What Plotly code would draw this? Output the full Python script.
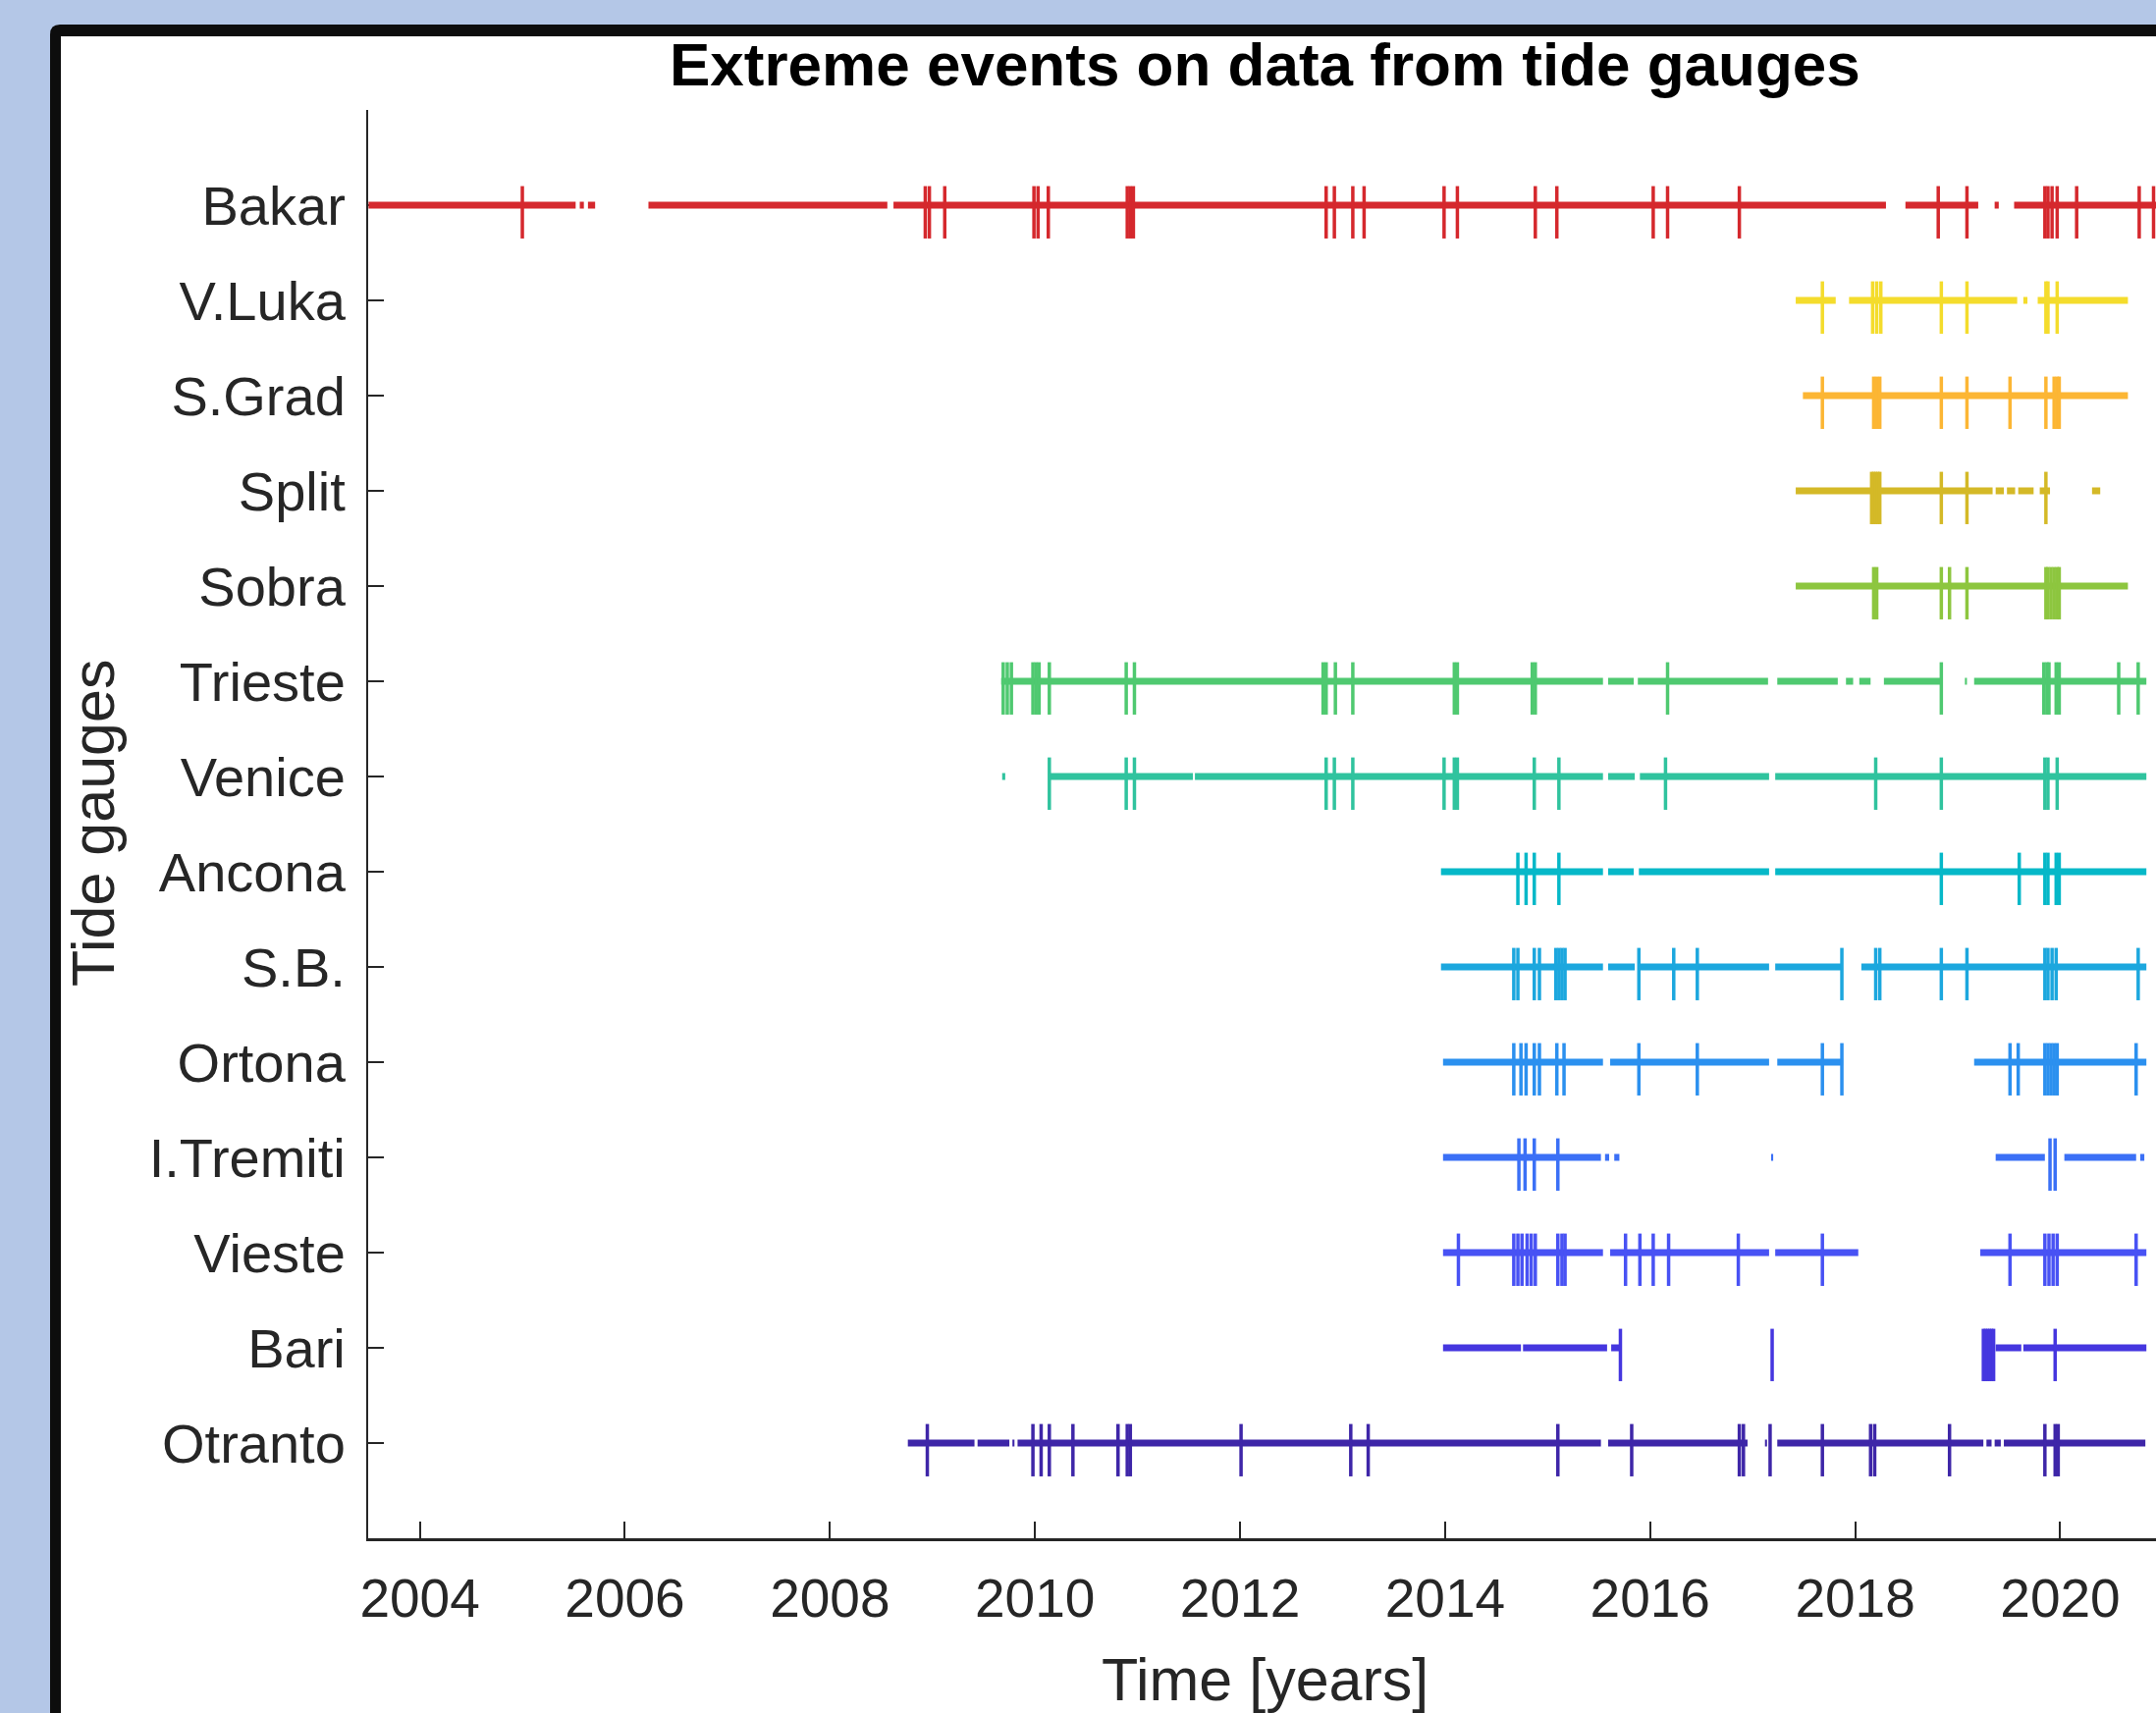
import plotly.graph_objects as go

# ---------------- data ----------------
gauges = ["Bakar", "V.Luka", "S.Grad", "Split", "Sobra", "Trieste", "Venice",
          "Ancona", "S.B.", "Ortona", "I.Tremiti", "Vieste", "Bari", "Otranto"]

colors = ["#d5282d", "#f4dc2c", "#fcb634", "#d4b927", "#8dc63f", "#4fc970", "#30c39e",
          "#06b8c8", "#1ca7de", "#2b90ef", "#3b70f6", "#4852f4", "#4536df", "#3e26a8"]

x_ticks = [2004, 2006, 2008, 2010, 2012, 2014, 2016, 2018, 2020]

# data coverage (start, end) in decimal years
bakar_cov = [(2003.50, 2005.52), (2005.56, 2005.60), (2005.64, 2005.71), (2006.23, 2008.56),
             (2008.62, 2018.30), (2018.49, 2019.20), (2019.36, 2019.40), (2019.55, 2021.00)]
vluka_cov = [(2017.42, 2017.81), (2017.94, 2019.58), (2019.64, 2019.68), (2019.78, 2020.66)]
sgrad_cov = [(2017.49, 2020.66)]
split_cov = [(2017.42, 2019.34), (2019.37, 2019.45), (2019.48, 2019.56), (2019.59, 2019.74),
             (2019.80, 2019.90), (2020.31, 2020.39)]
sobra_cov = [(2017.42, 2020.66)]
trieste_cov = [(2009.67, 2015.54), (2015.59, 2015.84), (2015.88, 2017.15), (2017.24, 2017.83),
               (2017.91, 2017.98), (2018.04, 2018.15), (2018.28, 2018.84), (2019.07, 2019.09),
               (2019.16, 2020.84)]
venice_cov = [(2009.68, 2009.71), (2010.14, 2011.54), (2011.56, 2015.54), (2015.59, 2015.85),
              (2015.90, 2017.16), (2017.22, 2020.84)]
ancona_cov = [(2013.96, 2015.54), (2015.59, 2015.84), (2015.89, 2017.16), (2017.22, 2020.84)]
sb_cov = [(2013.96, 2015.54), (2015.59, 2015.85), (2015.89, 2017.16), (2017.22, 2017.87),
          (2018.06, 2020.84)]
ortona_cov = [(2013.98, 2015.54), (2015.61, 2017.16), (2017.24, 2017.88), (2019.16, 2020.84)]
tremiti_cov = [(2013.98, 2015.52), (2015.56, 2015.60), (2015.65, 2015.70), (2017.18, 2017.20),
               (2019.37, 2019.85), (2020.04, 2020.74), (2020.78, 2020.82)]
vieste_cov = [(2013.98, 2015.54), (2015.61, 2017.16), (2017.22, 2018.03), (2019.22, 2020.84)]
bari_cov = [(2013.98, 2014.74), (2014.76, 2015.58), (2015.62, 2015.71), (2019.37, 2019.62),
            (2019.64, 2020.84)]
otranto_cov = [(2008.76, 2009.41), (2009.44, 2009.75), (2009.78, 2009.80), (2009.83, 2015.52),
               (2015.59, 2016.95), (2017.12, 2017.14), (2017.24, 2019.25), (2019.28, 2019.33),
               (2019.36, 2019.42), (2019.45, 2020.83)]

# extreme events (decimal years)
bakar_ev = [2005.00, 2008.93, 2008.97, 2009.12, 2009.99, 2010.03, 2010.13, 2010.90, 2010.93,
            2010.96, 2012.84, 2012.92, 2013.10, 2013.21, 2013.99, 2014.12, 2014.88,
            2015.09, 2016.03, 2016.17, 2016.87, 2018.81, 2019.09, 2019.85, 2019.88, 2019.92,
            2019.97, 2020.16, 2020.77, 2020.91]
vluka_ev = [2017.68, 2018.17, 2018.21, 2018.25, 2018.84, 2019.09, 2019.86, 2019.88, 2019.97]
sgrad_ev = [2017.68, 2018.18, 2018.21, 2018.24, 2018.84, 2019.09, 2019.51, 2019.86, 2019.94,
            2019.97, 2019.99]
split_ev = [2018.16, 2018.18, 2018.20, 2018.22, 2018.24, 2018.84, 2019.09, 2019.86]
sobra_ev = [2018.18, 2018.21, 2018.84, 2018.92, 2019.09, 2019.86, 2019.88, 2019.91, 2019.94,
            2019.97, 2019.99]
trieste_ev = [2009.69, 2009.73, 2009.77, 2009.98, 2010.01, 2010.04, 2010.14, 2010.89, 2010.97,
              2012.81, 2012.84, 2012.93, 2013.10, 2014.09, 2014.12, 2014.85, 2014.88, 2016.17,
              2018.84, 2019.84, 2019.87, 2019.89, 2019.96, 2019.99, 2020.57, 2020.76]
venice_ev = [2010.14, 2010.89, 2010.97, 2012.84, 2012.92, 2013.10, 2013.99, 2014.09, 2014.12,
             2014.87, 2015.11, 2016.15, 2018.20, 2018.84, 2019.85, 2019.88, 2019.97]
ancona_ev = [2014.71, 2014.79, 2014.87, 2015.11, 2018.84, 2019.60, 2019.85, 2019.88, 2019.96,
             2019.99]
sb_ev = [2014.67, 2014.71, 2014.87, 2014.92, 2015.08, 2015.11, 2015.14, 2015.17, 2015.89,
         2016.23, 2016.46, 2017.87, 2018.20, 2018.24, 2018.84, 2019.09, 2019.85, 2019.88,
         2019.92, 2019.96, 2020.76]
ortona_ev = [2014.67, 2014.74, 2014.79, 2014.87, 2014.92, 2015.09, 2015.16, 2015.89, 2016.46,
             2017.68, 2017.87, 2019.51, 2019.59, 2019.85, 2019.88, 2019.91, 2019.94, 2019.97,
             2020.74]
tremiti_ev = [2014.72, 2014.78, 2014.87, 2015.10, 2019.90, 2019.95]
vieste_ev = [2014.13, 2014.67, 2014.71, 2014.75, 2014.80, 2014.84, 2014.88, 2015.10, 2015.14,
             2015.17, 2015.76, 2015.90, 2016.03, 2016.18, 2016.86, 2017.68, 2019.51, 2019.85,
             2019.89, 2019.93, 2019.97, 2020.74]
bari_ev = [2015.71, 2017.19, 2019.25, 2019.27, 2019.29, 2019.31, 2019.33, 2019.35, 2019.95]
otranto_ev = [2008.95, 2009.98, 2010.06, 2010.14, 2010.37, 2010.81, 2010.90, 2010.93, 2012.01,
              2013.08, 2013.25, 2015.10, 2015.82, 2016.87, 2016.91, 2017.17, 2017.68, 2018.15,
              2018.19, 2018.92, 2019.85, 2019.95, 2019.98]

coverage = [bakar_cov, vluka_cov, sgrad_cov, split_cov, sobra_cov, trieste_cov, venice_cov,
            ancona_cov, sb_cov, ortona_cov, tremiti_cov, vieste_cov, bari_cov, otranto_cov]
events = [bakar_ev, vluka_ev, sgrad_ev, split_ev, sobra_ev, trieste_ev, venice_ev,
          ancona_ev, sb_ev, ortona_ev, tremiti_ev, vieste_ev, bari_ev, otranto_ev]

# ---------------- figure ----------------
W, H = 2196, 1745
ML, MT, MR, MB = 375, 112, 0, 178
PW, PH = W - ML - MR, H - MT - MB
TXT = "#262626"
FONT = "Liberation Sans, Arial, Helvetica, sans-serif"


def px_x(X):
    return (X - ML) / PW


def px_y(Y):
    return (H - MB - Y) / PH


n = len(gauges)
fig = go.Figure()
for i, name in enumerate(gauges):
    yv = n - i
    xs, ys = [], []
    for a, b in coverage[i]:
        xs += [a, b, None]
        ys += [yv, yv, None]
    fig.add_trace(go.Scatter(x=xs, y=ys, mode="lines",
                             line=dict(color=colors[i], width=7),
                             hoverinfo="skip", showlegend=False))
    ex, ey = [], []
    for e in events[i]:
        ex += [e, e, None]
        ey += [yv - 0.35, yv + 0.2, None]
    fig.add_trace(go.Scatter(x=ex, y=ey, mode="lines",
                             line=dict(color=colors[i], width=3.5),
                             hoverinfo="skip", showlegend=False))

# frame: black rounded border on light-blue page
r = 10
frame_path = (f"M {px_x(51)} {px_y(1900)} L {px_x(51)} {px_y(25 + r)} "
              f"Q {px_x(51)} {px_y(25)} {px_x(51 + r)} {px_y(25)} "
              f"L {px_x(2400)} {px_y(25)} L {px_x(2400)} {px_y(1900)} Z")
shapes = [
    dict(type="path", xref="paper", yref="paper", path=frame_path,
         fillcolor="#0d0d0d", line=dict(width=0), layer="below"),
    dict(type="rect", xref="paper", yref="paper",
         x0=px_x(62), y0=px_y(1900), x1=px_x(2400), y1=px_y(37),
         fillcolor="white", line=dict(width=0), layer="below"),
]

annotations = [
    dict(text="<b>Extreme events on data from tide gauges</b>", xref="paper", yref="paper",
         x=px_x(1288), y=px_y(66), xanchor="center", yanchor="middle", showarrow=False,
         font=dict(family=FONT, size=62, color="black")),
    dict(text="Time [years]", xref="paper", yref="paper",
         x=px_x(1288), y=px_y(1711), xanchor="center", yanchor="middle", showarrow=False,
         font=dict(family=FONT, size=61, color=TXT)),
    dict(text="Tide gauges", xref="paper", yref="paper", textangle=-90,
         x=px_x(95), y=px_y(839), xanchor="center", yanchor="middle", showarrow=False,
         font=dict(family=FONT, size=61, color=TXT)),
]

x_lo = 2004 - (427.6 - ML) / 104.43
x_hi = 2004 + (W - MR - 427.6) / 104.43

fig.update_layout(
    width=W, height=H,
    margin=dict(l=ML, r=MR, t=MT, b=MB, pad=0),
    paper_bgcolor="#b4c7e7", plot_bgcolor="white",
    font=dict(family=FONT, color=TXT),
    shapes=shapes, annotations=annotations,
    xaxis=dict(range=[x_lo, x_hi], tickvals=x_ticks, ticktext=[str(v) for v in x_ticks],
               ticks="inside", ticklen=17, tickwidth=2, tickcolor=TXT,
               showline=True, linecolor=TXT, linewidth=2.5, showgrid=False, zeroline=False,
               tickfont=dict(family=FONT, size=55, color=TXT), ticklabelstandoff=11,
               automargin=False, fixedrange=True),
    yaxis=dict(range=[0, 15], tickvals=list(range(n, 0, -1)), ticktext=gauges,
               ticks="inside", ticklen=16, tickwidth=2, tickcolor=TXT,
               showline=True, linecolor=TXT, linewidth=2, showgrid=False, zeroline=False,
               tickfont=dict(family=FONT, size=56, color=TXT), ticklabelstandoff=10,
               automargin=False, layer="below traces", fixedrange=True),
)

fig.write_html(
    "out.html",
    config={"displayModeBar": False},
    post_script="document.body.style.margin='0';document.body.style.overflow='hidden';"
                "document.body.style.background='#b4c7e7';",
)
